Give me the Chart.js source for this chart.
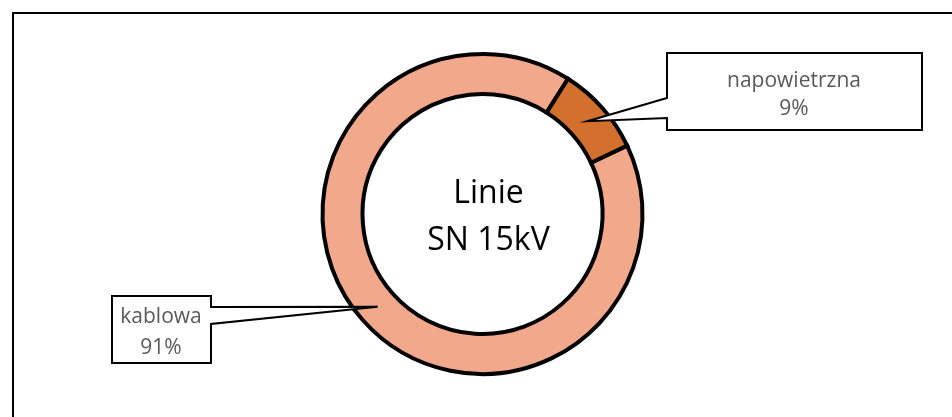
<!DOCTYPE html>
<html>
<head>
<meta charset="utf-8">
<script src="https://cdn.jsdelivr.net/npm/chart.js@4/dist/chart.umd.min.js"></script>
<style>
  html, body { margin: 0; padding: 0; background: #ffffff; }
  #wrap { width: 952px; height: 417px; position: relative; }
</style>
</head>
<body>
<div id="wrap"><canvas id="c" width="952" height="417"></canvas></div>
<script>
// ---- data ----
const categories = ['kablowa', 'napowietrzna'];
const values = [91, 9];
const percentLabels = ['91%', '9%'];
const centerLines = ['Linie', 'SN 15kV'];
const sliceColors = ['#F2A88A', '#D4702D'];

// ---- callout layout (box rectangles and pointer base on the box edge) ----
const callouts = [
  { box: { x: 112, y: 296, w: 99, h: 67 }, side: 'right', baseY: [307, 324], textX: 161, textY: [323, 354] },
  { box: { x: 667, y: 53, w: 255, h: 77 }, side: 'left', baseY: [98, 118], textX: 794, textY: [87, 115] }
];

const framePlugin = {
  id: 'frame',
  beforeDraw(chart) {
    const ctx = chart.ctx;
    ctx.save();
    ctx.fillStyle = '#ffffff';
    ctx.fillRect(0, 0, chart.width, chart.height);
    ctx.strokeStyle = '#000000';
    ctx.lineWidth = 2;
    ctx.beginPath();
    ctx.moveTo(13, chart.height + 5);
    ctx.lineTo(13, 13);
    ctx.lineTo(chart.width + 5, 13);
    ctx.stroke();
    ctx.restore();
  }
};

const overlayPlugin = {
  id: 'overlay',
  afterDatasetsDraw(chart) {
    const ctx = chart.ctx;
    const meta = chart.getDatasetMeta(0);
    ctx.save();
    // center text
    const arc0 = meta.data[0];
    const cx = arc0.x + 6, cy = arc0.y;
    ctx.fillStyle = '#000000';
    ctx.font = '32px "Open Sans"';
    ctx.textAlign = 'center';
    ctx.textBaseline = 'alphabetic';
    ctx.fillText(centerLines[0], cx, cy - 11);
    ctx.fillText(centerLines[1], cx, cy + 36);

    // callouts
    callouts.forEach((c, i) => {
      const tip = meta.data[i].getCenterPoint();
      const b = c.box;
      ctx.beginPath();
      if (c.side === 'left') {
        ctx.moveTo(b.x, b.y);
        ctx.lineTo(b.x + b.w, b.y);
        ctx.lineTo(b.x + b.w, b.y + b.h);
        ctx.lineTo(b.x, b.y + b.h);
        ctx.lineTo(b.x, c.baseY[1]);
        ctx.lineTo(tip.x, tip.y);
        ctx.lineTo(b.x, c.baseY[0]);
        ctx.closePath();
      } else {
        ctx.moveTo(b.x, b.y);
        ctx.lineTo(b.x + b.w, b.y);
        ctx.lineTo(b.x + b.w, c.baseY[0]);
        ctx.lineTo(tip.x, tip.y);
        ctx.lineTo(b.x + b.w, c.baseY[1]);
        ctx.lineTo(b.x + b.w, b.y + b.h);
        ctx.lineTo(b.x, b.y + b.h);
        ctx.closePath();
      }
      ctx.fillStyle = '#ffffff';
      ctx.fill();
      ctx.lineWidth = 2;
      ctx.lineJoin = 'miter';
      ctx.strokeStyle = '#000000';
      ctx.stroke();
      ctx.fillStyle = '#595959';
      ctx.font = '21px "Open Sans"';
      ctx.textAlign = 'center';
      ctx.fillText(categories[i], c.textX, c.textY[0]);
      ctx.fillText(percentLabels[i], c.textX, c.textY[1]);
    });
    ctx.restore();
  }
};

new Chart(document.getElementById('c'), {
  type: 'doughnut',
  data: {
    labels: categories,
    datasets: [{
      data: values,
      backgroundColor: sliceColors,
      borderColor: '#000000',
      borderWidth: 4,
      hoverBorderWidth: 4,
      borderAlign: 'center',
      borderJoinStyle: 'miter'
    }]
  },
  options: {
    responsive: false,
    animation: false,
    devicePixelRatio: 1,
    rotation: 64.7,
    radius: 160,
    cutout: '75%',
    layout: { padding: { left: 13, right: 0, top: 11, bottom: 0 } },
    plugins: {
      legend: { display: false },
      tooltip: { enabled: false },
      title: { display: false }
    },
    events: []
  },
  plugins: [framePlugin, overlayPlugin]
});
</script>
</body>
</html>
